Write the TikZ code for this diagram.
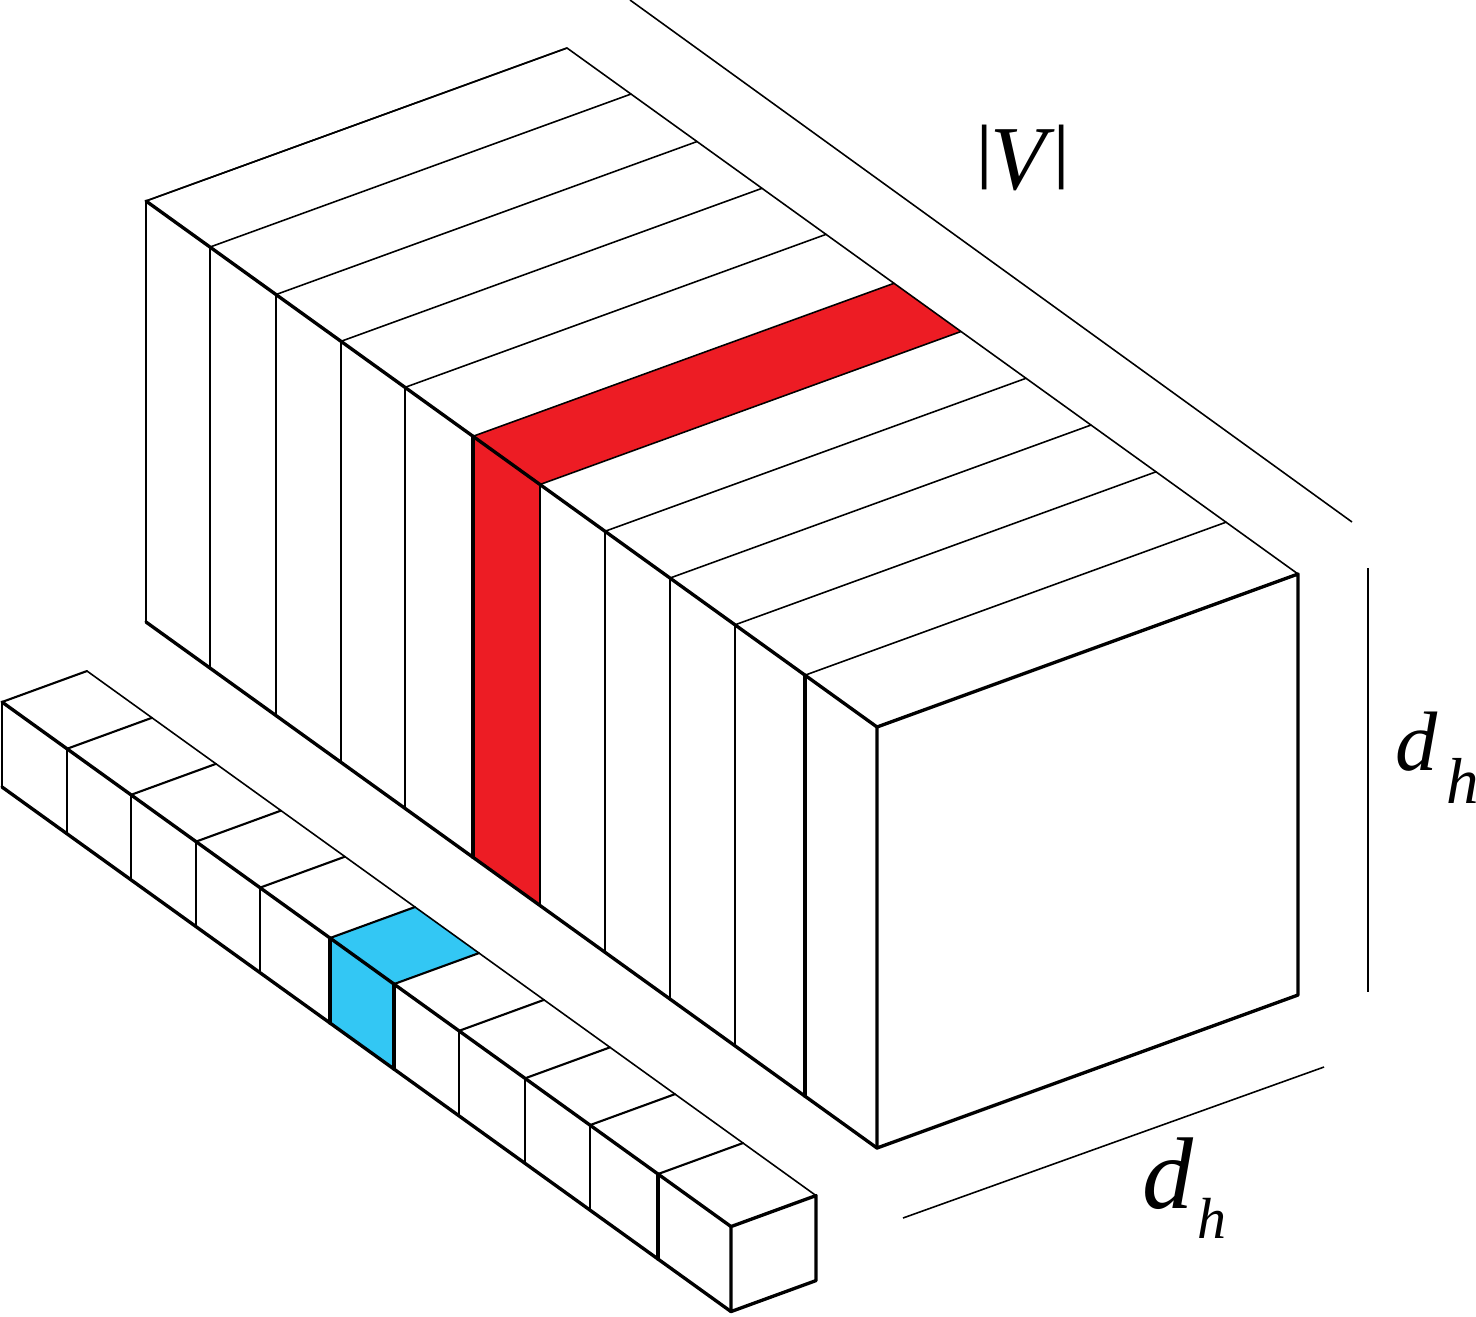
\documentclass[tikz,border=0pt]{standalone}
\usepackage{fontspec}
\setmainfont{Liberation Serif}
\usetikzlibrary{calc}

\definecolor{sliceRed}{RGB}{237,28,36}
\definecolor{cellBlue}{RGB}{51,199,244}

\tikzset{
  thinedge/.style={line width=0.9pt, line join=round, line cap=round},
  midedge/.style={line width=1.2pt, line join=round, line cap=round},
  thickedge/.style={line width=1.9pt, line join=round, line cap=round},
  dimline/.style={line width=0.9pt},
  dimlabel/.style={anchor=base west, inner sep=0pt},
}
\newcommand{\vbar}{\raisebox{0.3cm}{\scalebox{1}[0.78]{|}}}

\begin{document}
\begin{tikzpicture}[x=0.02cm, y=-0.02cm]
  \useasboundingbox (0,0) rectangle (1476,1316);

  % big block of |V| slices
  \coordinate (O) at (146,201);
  \coordinate (D) at (1,0.71956);
  \coordinate (W) at (421,-153);
  \coordinate (H) at (0,421);
  \coordinate (F) at ($(O)+731*(D)$);

  % highlighted slice
  \fill[sliceRed] ($(O)+327*(D)$) -- ($(O)+394*(D)$) -- ($(O)+394*(D)+(W)$) -- ($(O)+327*(D)+(W)$) -- cycle;
  \fill[sliceRed] ($(O)+327*(D)$) -- ($(O)+394*(D)$) -- ($(O)+394*(D)+(H)$) -- ($(O)+327*(D)+(H)$) -- cycle;

  \foreach \t in {0,64,130,195,259,327,394,459,524,589,659} {
    \draw[thinedge] ($(O)+\t*(D)$) -- ++(W);
    \draw[thinedge] ($(O)+\t*(D)$) -- ++(H);
  }
  \draw[midedge] (O) -- ++(H);
  \draw[thickedge] ($(O)+327*(D)$) -- ++(H);
  \draw[thickedge] ($(O)+659*(D)$) -- ++(H);
  \draw[thinedge] (O) -- ++(W) -- ($(F)+(W)$);
  \draw[thickedge] (O) -- (F);
  \draw[thickedge] ($(O)+(H)$) -- ($(F)+(H)$);
  \draw[thickedge] (F) -- ($(F)+(W)$) -- ($(F)+(W)+(H)$) -- ($(F)+(H)$) -- cycle;

  % row of cells
  \coordinate (C) at (2,702);
  \coordinate (w) at (85,-31);
  \coordinate (h) at (0,85);
  \coordinate (E) at ($(C)+729*(D)$);

  \fill[cellBlue] ($(C)+328*(D)$) -- ($(C)+392*(D)$) -- ($(C)+392*(D)+(w)$) -- ($(C)+328*(D)+(w)$) -- cycle;
  \fill[cellBlue] ($(C)+328*(D)$) -- ($(C)+392*(D)$) -- ($(C)+392*(D)+(h)$) -- ($(C)+328*(D)+(h)$) -- cycle;

  \foreach \t in {0,65,129,194,258,328,392,457,523,588,656} {
    \draw[midedge] ($(C)+\t*(D)$) -- ++(w);
    \draw[midedge] ($(C)+\t*(D)$) -- ++(h);
  }
  \draw[thickedge] ($(C)+328*(D)$) -- ++(h);
  \draw[thickedge] ($(C)+392*(D)$) -- ++(h);
  \draw[thickedge] ($(C)+656*(D)$) -- ++(h);
  \draw[thinedge] ($(C)+(w)$) -- ($(E)+(w)$);
  \draw[thickedge] (C) -- (E);
  \draw[thickedge] ($(C)+(h)$) -- ($(E)+(h)$);
  \draw[thickedge] (E) -- ($(E)+(w)$) -- ($(E)+(w)+(h)$) -- ($(E)+(h)$) -- cycle;

  % dimensions
  \draw[dimline] (630,0) -- (1352,522);
  \draw[dimline] (1368,568) -- (1368,992);
  \draw[dimline] (903,1218) -- (1324,1067);

  \node[dimlabel] (lblV) at (975,189) {\fontsize{52}{56}\selectfont \vbar\kern-0.03em\textit{V}\kern-0.03em\vbar};
  \node[dimlabel] (lblDhR) at (1395,770)
    {\fontsize{48}{50}\selectfont\textit{d}\kern0.1em\raisebox{-0.66cm}{\fontsize{37}{40}\selectfont\textit{h}}};
  \node[dimlabel] (lblDhB) at (1142,1208)
    {\fontsize{58}{60}\selectfont\textit{d}\kern0.04em\raisebox{-0.6cm}{\fontsize{33}{36}\selectfont\textit{h}}};
\end{tikzpicture}
\end{document}
